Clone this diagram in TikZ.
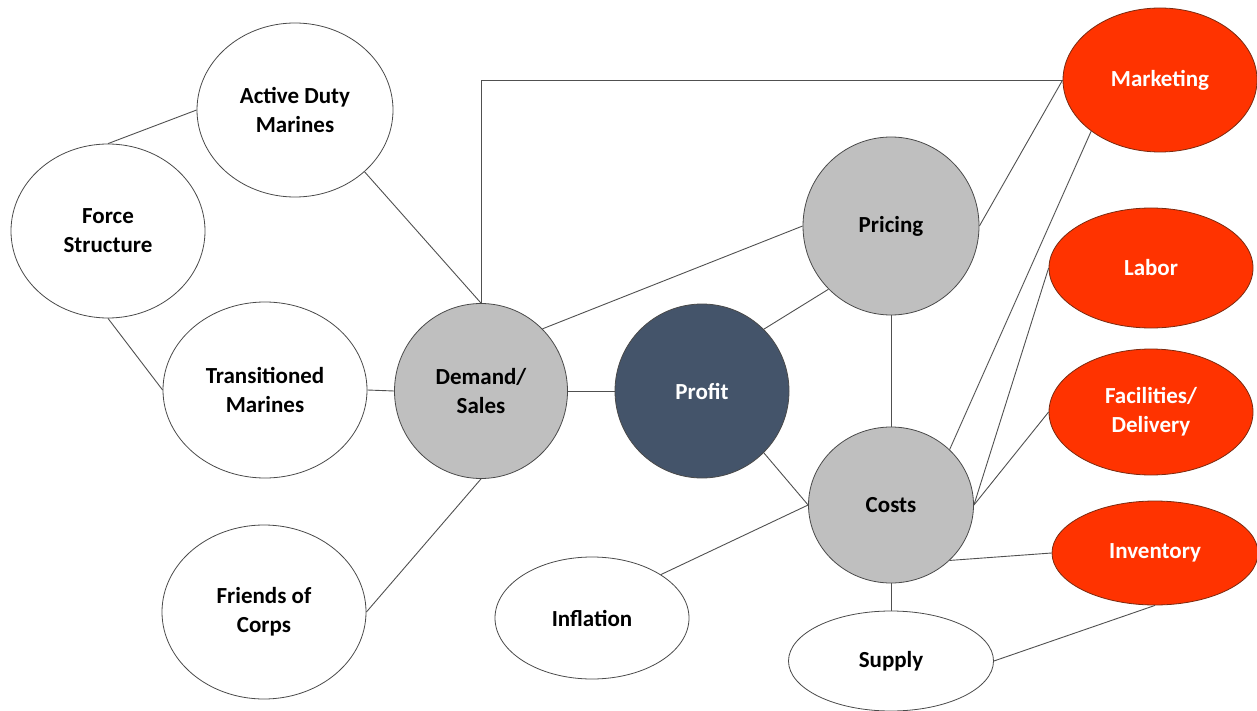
\documentclass[tikz,border=0pt]{standalone}
\usepackage{fontspec}
\setmainfont{Carlito}
\usetikzlibrary{shapes.geometric}
\definecolor{edgegray}{HTML}{4A4A4A}
\definecolor{linkgray}{HTML}{505050}
\definecolor{midgray}{HTML}{BFBFBF}
\definecolor{slate}{HTML}{44546A}
\definecolor{flame}{HTML}{FF3300}
\definecolor{flameedge}{HTML}{7A2A10}
\begin{document}
\begin{tikzpicture}[x=1pt,y=-1pt,
  bubble/.style={ellipse, draw=edgegray, line width=0.8pt, inner sep=0pt,
    align=center, font=\fontsize{23}{29}\selectfont\bfseries},
  dims/.style 2 args={minimum width=#1pt, minimum height=#2pt},
  plain/.style={bubble, fill=white, text=black},
  driver/.style={bubble, fill=midgray, text=black},
  core/.style={bubble, fill=slate, text=white},
  costitem/.style={bubble, fill=flame, draw=flameedge, text=white},
  link/.style={draw=linkgray, line width=0.9pt}]
\useasboundingbox (0,0) rectangle (1257,711);

% demand side
\node[plain, dims={196}{174}] (ad)  at (295,110) {Active Duty\\Marines};
\node[plain, dims={194}{174}] (fs)  at (108,231) {Force\\Structure};
\node[plain, dims={204}{176}] (tm)  at (265,390) {Transitioned\\Marines};
\node[plain, dims={204}{174}] (fc)  at (264,612) {Friends of\\Corps};
\node[driver, dims={173}{175}] (dem) at (481,391) {Demand/\\Sales};

% centre
\node[core, dims={174}{174}] (pro) at (702,391) {Profit};
\node[driver, dims={176}{178}] (pri) at (891,226) {Pricing};
\node[driver, dims={165}{156}] (cst) at (891,505) {Costs};
\node[plain, dims={194}{122}] (inf) at (592,618) {Inflation};
\node[plain, dims={205}{100}] (sup) at (891,661) {Supply};

% cost items
\node[costitem, dims={194}{144}] (mkt) at (1160,80)  {Marketing};
\node[costitem, dims={204}{120}] (lab) at (1151,268) {Labor};
\node[costitem, dims={204}{126}] (fac) at (1151,412) {Facilities/\\Delivery};
\node[costitem, dims={206}{104}] (inv) at (1155,553) {Inventory};

% connectors
\draw[link] (fs.north) -- (ad.west);
\draw[link] (fs.south) -- (tm.west);
\draw[link] (ad.south east) -- (dem.north);
\draw[link] (tm.east) -- (dem.west);
\draw[link] (fc.east) -- (dem.south);
\draw[link] (dem.north) |- (mkt.west);
\draw[link] (dem.north east) -- (pri.west);
\draw[link] (dem.east) -- (pro.west);
\draw[link] (pro.north east) -- (pri.south west);
\draw[link] (pro.south east) -- (cst.west);
\draw[link] (pri.south) -- (cst.north);
\draw[link] (pri.east) -- (mkt.west);
\draw[link] (cst.north east) -- (mkt.south west);
\draw[link] (cst.east) -- (lab.west);
\draw[link] (cst.east) -- (fac.west);
\draw[link] (cst.south east) -- (inv.west);
\draw[link] (cst.south) -- (sup.north);
\draw[link] (cst.west) -- (inf.north east);
\draw[link] (sup.east) -- (inv.south);
\end{tikzpicture}
\end{document}
